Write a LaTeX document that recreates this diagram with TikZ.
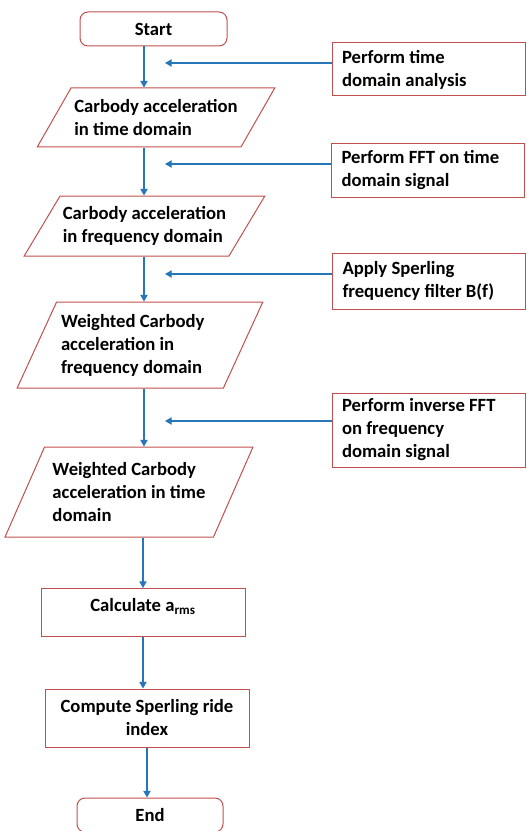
\documentclass[tikz,border=0pt]{standalone}
\usepackage{fontspec}
\setmainfont{Carlito}
\usetikzlibrary{shapes.geometric,arrows.meta}

\begin{document}
\begin{tikzpicture}[x=0.75pt,y=0.75pt,yscale=-1,xscale=1,
    every node/.style={font=\bfseries\fontsize{14}{17.25}\selectfont},
    term/.style={draw={rgb, 255:red, 192; green, 80; blue, 77},line width=0.75pt,rounded corners=6pt,minimum height=25.5pt,inner sep=0pt},
    datbox/.style={draw={rgb, 255:red, 192; green, 80; blue, 77},line width=0.75pt,shape=trapezium,trapezium stretches=true,align=flush left,inner xsep=0pt,inner ysep=2pt},
    procbox/.style={draw={rgb, 255:red, 192; green, 80; blue, 77},line width=0.75pt,minimum width=153pt,inner sep=0pt,align=center},
    sidebox/.style={draw={rgb, 255:red, 192; green, 80; blue, 77},line width=0.75pt,text width=129.75pt,inner xsep=7.5pt,inner ysep=0pt,align=flush left},
    flow/.style={draw={rgb, 255:red, 40; green, 118; blue, 186},line width=0.9pt,-{Triangle[width=5.5pt,length=5pt]}}]
\useasboundingbox (0,0) rectangle (526,831);

% main column
\draw (153.5,29) node (start) [term,minimum width=110.25pt] {Start};
\draw (156,117.5) node (p1) [datbox,trapezium left angle=52,trapezium right angle=128,minimum width=178.5pt,minimum height=44.25pt] {Carbody acceleration\\in time domain};
\draw (144.5,226) node (p2) [datbox,trapezium left angle=52,trapezium right angle=128,minimum width=180.75pt,minimum height=45pt] {Carbody acceleration\\in frequency domain};
\draw (140,345) node (p3) [datbox,trapezium left angle=61,trapezium right angle=119,minimum width=184.5pt,minimum height=64.5pt,text width=118.5pt] {Weighted Carbody\\acceleration in\\frequency domain};
\draw (129,492) node (p4) [datbox,trapezium left angle=61,trapezium right angle=119,minimum width=186pt,minimum height=67.5pt] {Weighted Carbody\\acceleration in time\\domain};
\draw (143,588) node (calc) [procbox,anchor=north,text height=17pt,text depth=19pt] {Calculate a\textsubscript{rms}};
\draw (147,718) node (comp) [procbox,minimum height=43.5pt] {Compute Sperling ride\\index};
\draw (150,815) node (end) [term,minimum width=109.5pt] {End};

% side steps
\draw (428.5,69.5) node (s1) [sidebox,minimum height=39.75pt] {Perform time\\domain analysis};
\draw (428,170.5) node (s2) [sidebox,minimum height=39.75pt] {Perform FFT on time\\domain signal};
\draw (429,281) node (s3) [sidebox,minimum height=42pt] {Apply Sperling\\frequency filter B(f)};
\draw (428.5,430) node (s4) [sidebox,minimum height=55.5pt] {Perform inverse FFT\\on frequency\\domain signal};

\coordinate (spine) at (144,0);
\coordinate (t1) at (165,63);
\coordinate (t2) at (165,164);
\coordinate (t3) at (165,274);
\coordinate (t4) at (165,421);

\draw [flow] (start.south -| spine) -- (p1.north -| spine);
\draw [flow] (p1.south -| spine) -- (p2.north -| spine);
\draw [flow] (p2.south -| spine) -- (p3.north -| spine);
\draw [flow] (p3.south -| spine) -- (p4.north -| spine);
\draw [flow] (p4.south -| calc.north) -- (calc.north);
\draw [flow] (calc.south) -- (calc.south |- comp.north);
\draw [flow] (comp.south) -- (comp.south |- end.north);

\draw [flow] (t1 -| s1.west) -- (t1);
\draw [flow] (t2 -| s2.west) -- (t2);
\draw [flow] (t3 -| s3.west) -- (t3);
\draw [flow] (t4 -| s4.west) -- (t4);
\end{tikzpicture}
\end{document}
